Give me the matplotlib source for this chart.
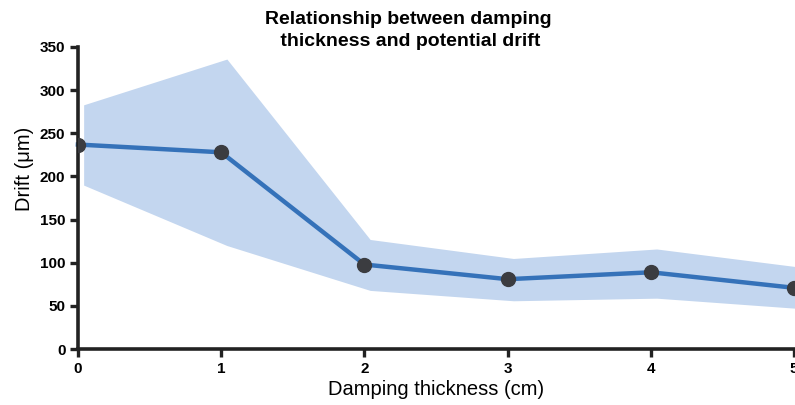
import matplotlib
matplotlib.use("Agg")
import matplotlib.pyplot as plt
import numpy as np

plt.rcParams['font.family'] = ['Liberation Sans', 'DejaVu Sans']

# data
thickness = [0, 1, 2, 3, 4, 5]
drift_mean = [237, 228, 98, 81, 89, 71]
drift_upper = [283, 336, 127, 105, 116, 95]
drift_lower = [190, 120, 68, 56, 59, 47]

line_color = '#3572b9'
band_color = '#c3d6ef'
point_color = '#3b3c40'
axis_color = '#222222'

fig = plt.figure(figsize=(7.95, 4.05), dpi=100)
ax = fig.add_axes([0.098, 0.138, 0.901, 0.746])

x = np.array(thickness, dtype=float)
ax.fill_between(x + 0.04, drift_lower, drift_upper, color=band_color, linewidth=0, zorder=1)
ax.plot(x, drift_mean, color=line_color, linewidth=3.2, zorder=2, clip_on=False)
ax.scatter(x, drift_mean, s=100, color=point_color, zorder=3, clip_on=True)

ax.set_xlim(0, 5)
ax.set_ylim(0, 350)
ax.set_xticks(thickness)
ax.set_yticks(np.arange(0, 351, 50))

for side in ['top', 'right']:
    ax.spines[side].set_visible(False)
for side in ['left', 'bottom']:
    ax.spines[side].set_linewidth(2.6)
    ax.spines[side].set_color(axis_color)

ax.tick_params(axis='both', length=6, width=2.4, color=axis_color, labelsize=11, pad=3)
for lbl in ax.get_xticklabels() + ax.get_yticklabels():
    lbl.set_fontweight('bold')

ax.set_xlabel('Damping thickness (cm)', fontsize=14.5, labelpad=3)
ax.set_ylabel('Drift (\u03bcm)', fontsize=14.5)
ax.yaxis.set_label_coords(-0.061, 0.596)

fig.text(0.513, 0.972, 'Relationship between damping\n thickness and potential drift',
         ha='center', va='top', fontsize=14, fontweight='bold', linespacing=1.35)

fig.savefig('out.png', dpi=100)
